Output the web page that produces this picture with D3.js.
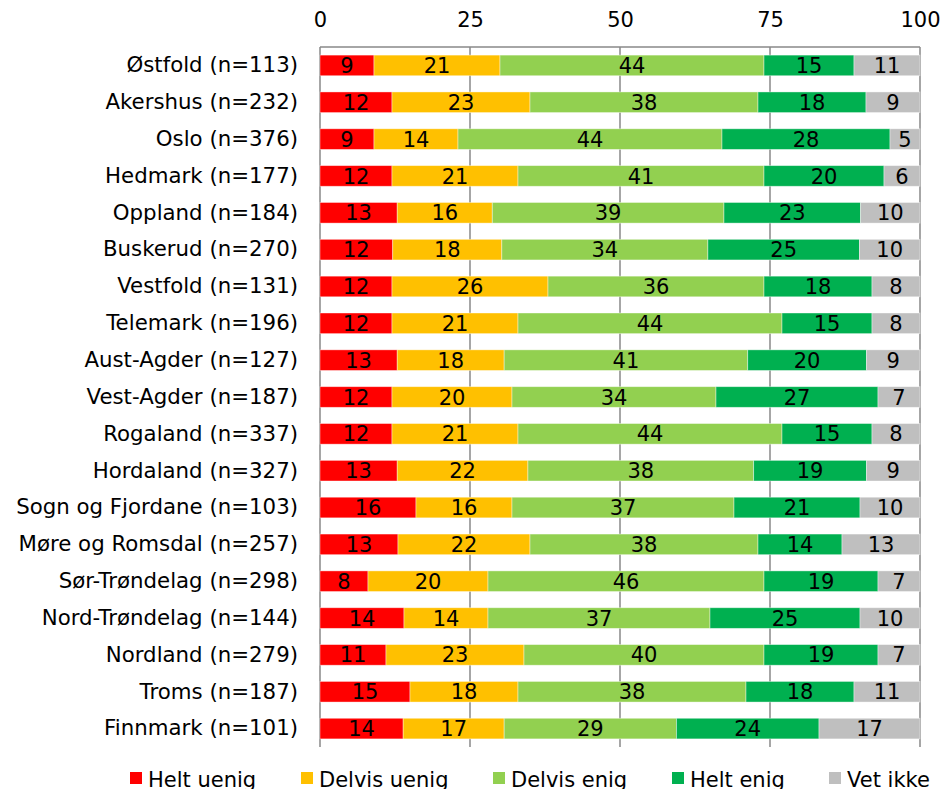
<!DOCTYPE html>
<html>
<head>
<meta charset="utf-8">
<script src="https://cdn.jsdelivr.net/npm/d3@7"></script>
<style>
  html, body { margin: 0; padding: 0; background: #fff; }
  svg { display: block; font-family: "DejaVu Sans", Verdana, sans-serif; }
</style>
</head>
<body>
<svg id="chart" width="942" height="789"></svg>
<script>
// Regions with respondent counts
const categories = [
  "Østfold (n=113)", "Akershus (n=232)", "Oslo (n=376)", "Hedmark (n=177)",
  "Oppland (n=184)", "Buskerud (n=270)", "Vestfold (n=131)", "Telemark (n=196)",
  "Aust-Agder (n=127)", "Vest-Agder (n=187)", "Rogaland (n=337)", "Hordaland (n=327)",
  "Sogn og Fjordane (n=103)", "Møre og Romsdal (n=257)", "Sør-Trøndelag (n=298)",
  "Nord-Trøndelag (n=144)", "Nordland (n=279)", "Troms (n=187)", "Finnmark (n=101)"
];

const seriesNames = ["Helt uenig", "Delvis uenig", "Delvis enig", "Helt enig", "Vet ikke"];

// Percent per answer, one array per series, in category order
const heltUenig   = [9, 12, 9, 12, 13, 12, 12, 12, 13, 12, 12, 13, 16, 13, 8, 14, 11, 15, 14];
const delvisUenig = [21, 23, 14, 21, 16, 18, 26, 21, 18, 20, 21, 22, 16, 22, 20, 14, 23, 18, 17];
const delvisEnig  = [44, 38, 44, 41, 39, 34, 36, 44, 41, 34, 44, 38, 37, 38, 46, 37, 40, 38, 29];
const heltEnig    = [15, 18, 28, 20, 23, 25, 18, 15, 20, 27, 15, 19, 21, 14, 19, 25, 19, 18, 24];
const vetIkke     = [11, 9, 5, 6, 10, 10, 8, 8, 9, 7, 8, 9, 10, 13, 7, 10, 7, 11, 17];

const tickValues = [0, 25, 50, 75, 100];

const colors = ["#FF0000", "#FFC000", "#92D050", "#00B050", "#BFBFBF"];

const seriesValues = [heltUenig, delvisUenig, delvisEnig, heltEnig, vetIkke];
const rows = categories.map((c, i) => {
  const r = { category: c };
  seriesNames.forEach((s, j) => { r[s] = seriesValues[j][i]; });
  return r;
});

const svg = d3.select("#chart");
const plot = { left: 320, right: 920, top: 47, bottom: 747 };
const fontFamily = '"DejaVu Sans", Verdana, sans-serif';

const x = d3.scaleLinear().domain([0, 100]).range([plot.left, plot.right]);
const y = d3.scaleBand().domain(categories).range([plot.top, plot.bottom])
  .paddingInner(0.44).paddingOuter(0.22);

const stacked = d3.stack().keys(seriesNames).offset(d3.stackOffsetExpand)(rows);

const gridColor = "#898989";

// vertical grid lines
svg.append("g").selectAll("line")
  .data(tickValues)
  .join("line")
  .attr("x1", d => x(d)).attr("x2", d => x(d))
  .attr("y1", plot.top).attr("y2", plot.bottom)
  .attr("stroke", gridColor).attr("stroke-width", 1.5);

// top axis line
svg.append("line")
  .attr("x1", plot.left).attr("x2", plot.right)
  .attr("y1", plot.top).attr("y2", plot.top)
  .attr("stroke", gridColor).attr("stroke-width", 1.5);

// top axis tick labels
const xAxis = d3.axisTop(x).tickValues(tickValues).tickSize(0).tickPadding(0);
const gx = svg.append("g").attr("transform", `translate(0,27)`).call(xAxis);
gx.select(".domain").remove();
gx.selectAll("text")
  .attr("font-size", 21).attr("fill", "#000")
  .attr("font-family", fontFamily)
  .attr("dy", 0);

// category labels
const yAxis = d3.axisLeft(y).tickSize(0).tickPadding(0);
const gy = svg.append("g").attr("transform", `translate(298,0)`).call(yAxis);
gy.select(".domain").remove();
gy.selectAll("text")
  .attr("font-size", 21.3).attr("fill", "#000")
  .attr("font-family", fontFamily);

// bars
const layers = svg.append("g").selectAll("g")
  .data(stacked)
  .join("g")
  .attr("fill", (d, i) => colors[i]);

const xs = d => x(d * 100);

layers.selectAll("rect")
  .data(d => d.map(v => ({ v, key: d.key })))
  .join("rect")
  .attr("x", d => xs(d.v[0]))
  .attr("y", d => y(d.v.data.category))
  .attr("width", d => xs(d.v[1]) - xs(d.v[0]))
  .attr("height", y.bandwidth())
  .attr("stroke", "#ffffff")
  .attr("stroke-opacity", 0.5)
  .attr("stroke-width", 0.8);

// value labels
layers.selectAll("text")
  .data(d => d.map(v => ({ v, key: d.key })))
  .join("text")
  .attr("x", d => (xs(d.v[0]) + xs(d.v[1])) / 2)
  .attr("y", d => y(d.v.data.category) + y.bandwidth() / 2)
  .attr("dy", "0.36em")
  .attr("text-anchor", "middle")
  .attr("font-size", 21)
  .attr("fill", "#000")
  .text(d => d.v.data[d.key]);

// legend
const legendX = [130, 301, 493, 672, 829];
const legend = svg.append("g").selectAll("g")
  .data(seriesNames)
  .join("g")
  .attr("transform", (d, i) => `translate(${legendX[i]},772)`);
legend.append("rect")
  .attr("width", 12).attr("height", 12)
  .attr("fill", (d, i) => colors[i]);
legend.append("text")
  .attr("x", 18).attr("y", 15)
  .attr("font-size", 21).attr("fill", "#000")
  .text(d => d);
</script>
</body>
</html>
